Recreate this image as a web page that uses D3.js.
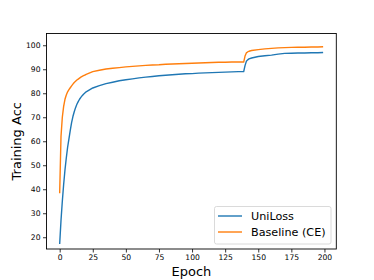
<!DOCTYPE html>
<html lang="en">
<head>
<meta charset="UTF-8">
<script src="https://cdnjs.cloudflare.com/ajax/libs/d3/7.8.5/d3.min.js"></script>
<style>
  body { margin: 0; background: #fff; }
  svg { display: block; font-family: "DejaVu Sans", sans-serif; }
  .tick text { font-size: 7.6px; fill: #000; }
</style>
</head>
<body>
<svg id="chart" width="374" height="280"></svg>
<script>
// sampled epochs (dense where the curves bend)
var epochs = [0,1,2,3,4,5,6,7,8,9,10,11,12,13,14,15,16,17,18,19,20,
  25,30,35,40,45,50,55,60,65,70,75,80,85,90,95,100,105,110,115,120,125,130,135,139,
  140,141,142,143,145,150,155,160,165,170,175,180,185,190,195,199];

var uniLoss = [17.2,27,35,42,48,53,57.5,61,64.5,67.8,70.3,72.3,74,75.4,76.5,77.5,78.3,79,79.6,80.1,80.6,
  82.2,83.2,84,84.6,85.2,85.6,86,86.4,86.7,87,87.3,87.5,87.7,87.9,88.1,88.2,88.4,88.5,88.6,88.7,88.8,88.9,89,89,
  91.5,93.3,93.9,94.3,94.7,95.3,95.6,95.9,96.3,96.6,96.7,96.8,96.8,96.9,96.9,97];

var baseline = [38.3,62,70,74.5,77.5,79.3,80.6,81.5,82.3,83.1,83.8,84.5,85,85.5,85.9,86.3,86.7,87,87.3,87.6,87.9,
  89,89.6,90.1,90.4,90.7,91,91.2,91.4,91.6,91.8,91.9,92.1,92.2,92.3,92.4,92.5,92.6,92.7,92.8,92.9,92.9,93,93,93,
  95.5,96.8,97.2,97.5,97.8,98.2,98.5,98.7,98.9,99,99.1,99.2,99.2,99.3,99.3,99.4];

var seriesNames = ["UniLoss", "Baseline (CE)"];
var seriesColors = ["#1f77b4", "#ff7f0e"];
var xTicks = [0,25,50,75,100,125,150,175,200];
var yTicks = [20,30,40,50,60,70,80,90,100];

var svg = d3.select("#chart");
var pLeft = 46.5, pRight = 336.3, pTop = 33.5, pBottom = 249;

var x = d3.scaleLinear().domain([-9.95, 208.95]).range([pLeft, pRight]);
var y = d3.scaleLinear().domain([15.1, 104.9]).range([pBottom, pTop]);

var line = d3.line()
  .x(function(d) { return x(d[0]); })
  .y(function(d) { return y(d[1]); });

[uniLoss, baseline].forEach(function(vals, i) {
  svg.append("path")
    .datum(epochs.map(function(e, j) { return [e, vals[j]]; }))
    .attr("fill", "none")
    .attr("stroke", seriesColors[i])
    .attr("stroke-width", 1.4)
    .attr("stroke-linejoin", "round")
    .attr("d", line);
});

// axes
var xAxis = svg.append("g")
  .attr("transform", "translate(0," + pBottom + ")")
  .call(d3.axisBottom(x).tickValues(xTicks).tickSize(3.5).tickPadding(2.5));
var yAxis = svg.append("g")
  .attr("transform", "translate(" + pLeft + ",0)")
  .call(d3.axisLeft(y).tickValues(yTicks).tickSize(3.5).tickPadding(2.5));
[xAxis, yAxis].forEach(function(g) {
  g.select(".domain").remove();
  g.selectAll(".tick line").attr("stroke", "#000").attr("stroke-width", 0.8);
  g.attr("font-family", null).attr("font-size", null);
});

svg.append("rect")
  .attr("x", pLeft).attr("y", pTop)
  .attr("width", pRight - pLeft).attr("height", pBottom - pTop)
  .attr("fill", "none").attr("stroke", "#000").attr("stroke-width", 0.9);

svg.append("text")
  .attr("x", (pLeft + pRight) / 2).attr("y", 276)
  .attr("text-anchor", "middle").attr("font-size", 13)
  .text("Epoch");

svg.append("text")
  .attr("transform", "translate(21," + (pTop + pBottom) / 2 + ") rotate(-90)")
  .attr("text-anchor", "middle").attr("font-size", 13)
  .text("Training Acc");

// legend
var lg = svg.append("g");
lg.append("rect")
  .attr("x", 214.5).attr("y", 206.5).attr("width", 116.5).attr("height", 37.5)
  .attr("rx", 2).attr("fill", "#fff").attr("fill-opacity", 0.8)
  .attr("stroke", "#d0d0d0").attr("stroke-width", 0.8);
seriesNames.forEach(function(name, i) {
  var ly = 216 + i * 16;
  lg.append("line")
    .attr("x1", 218).attr("x2", 242).attr("y1", ly).attr("y2", ly)
    .attr("stroke", seriesColors[i]).attr("stroke-width", 1.4);
  lg.append("text")
    .attr("x", 251).attr("y", ly + 4)
    .attr("font-size", 11.2)
    .text(name);
});
</script>
</body>
</html>
